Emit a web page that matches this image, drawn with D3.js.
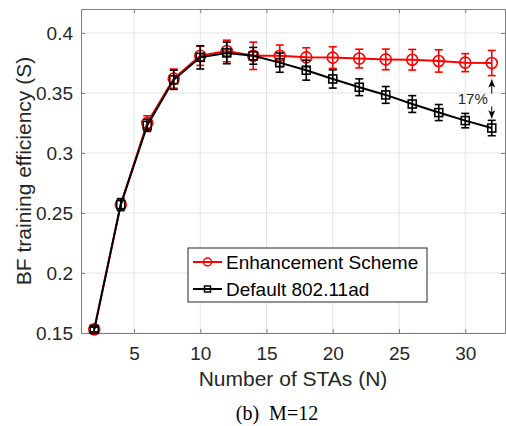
<!DOCTYPE html>
<html>
<head>
<meta charset="utf-8">
<script src="https://cdn.jsdelivr.net/npm/d3@7"></script>
<style>
  body { margin: 0; background: #fff; }
  svg { display: block; font-family: "Liberation Sans", Arial, sans-serif; }
</style>
</head>
<body>
<div class="chart"></div>
<script>
var svgWidth = 506;
var svgHeight = 426;

// data
var stas = [2, 4, 6, 8, 10, 12, 14, 16, 18, 20, 22, 24, 26, 28, 30, 32];
var enhanced = [0.153, 0.257, 0.325, 0.362, 0.381, 0.385, 0.381, 0.381, 0.3797, 0.3795, 0.3787, 0.378, 0.3777, 0.3767, 0.3753, 0.375];
var enhancedErr = [0.002, 0.004, 0.006, 0.008, 0.008, 0.009, 0.0114, 0.009, 0.008, 0.009, 0.0078, 0.0086, 0.0086, 0.0093, 0.0075, 0.0105];
var defaultAd = [0.153, 0.257, 0.323, 0.361, 0.3797, 0.3834, 0.381, 0.3753, 0.369, 0.3617, 0.3548, 0.3484, 0.3408, 0.3337, 0.327, 0.3208];
var defaultErr = [0.002, 0.005, 0.005, 0.008, 0.0097, 0.009, 0.007, 0.008, 0.0083, 0.0076, 0.007, 0.007, 0.007, 0.0067, 0.006, 0.0064];
var xTicks = [5, 10, 15, 20, 25, 30];
var yTicks = [0.15, 0.2, 0.25, 0.3, 0.35, 0.4];
var legendNames = ["Enhancement Scheme", "Default 802.11ad"];

var margin = { top: 9, right: 1, bottom: 93, left: 81 };
var width = svgWidth - margin.left - margin.right;
var height = svgHeight - margin.top - margin.bottom;

var svg = d3.select(".chart")
  .append("svg")
  .attr("width", svgWidth)
  .attr("height", svgHeight);

var chartGroup = svg.append("g")
  .attr("transform", `translate(${margin.left}, ${margin.top})`);

var x = d3.scaleLinear().domain([1, 33]).range([0, width]);
var y = d3.scaleLinear().domain([0.15, 0.42]).range([height, 0]);

var axisColor = "#7f7f7f";
var textColor = "#262626";

// grid
chartGroup.append("g").selectAll("line.gx")
  .data(xTicks).enter().append("line")
  .attr("x1", d => x(d)).attr("x2", d => x(d))
  .attr("y1", 0).attr("y2", height)
  .attr("stroke", "#e3e3e3").attr("stroke-width", 1);
chartGroup.append("g").selectAll("line.gy")
  .data(yTicks).enter().append("line")
  .attr("y1", d => y(d)).attr("y2", d => y(d))
  .attr("x1", 0).attr("x2", width)
  .attr("stroke", "#e3e3e3").attr("stroke-width", 1);

// axes
var bottomAxis = d3.axisBottom(x).tickValues(xTicks).tickSizeInner(-4).tickSizeOuter(0).tickPadding(14);
var leftAxis = d3.axisLeft(y).tickValues(yTicks).tickFormat(d => String(+d.toFixed(2))).tickSizeInner(-4).tickSizeOuter(0).tickPadding(8);
var topAxis = d3.axisTop(x).tickValues(xTicks).tickSizeInner(-4).tickSizeOuter(0).tickFormat("");
var rightAxis = d3.axisRight(y).tickValues(yTicks).tickSizeInner(-4).tickSizeOuter(0).tickFormat("");

function styleAxis(g) {
  g.selectAll("path, line").attr("stroke", axisColor);
  g.selectAll("text").attr("fill", textColor).attr("font-size", "19px")
    .attr("font-family", "Liberation Sans, Arial, sans-serif");
}

chartGroup.append("g").attr("transform", `translate(0, ${height})`).call(bottomAxis).call(styleAxis);
chartGroup.append("g").call(leftAxis).call(styleAxis);
chartGroup.append("g").call(topAxis).call(styleAxis);
chartGroup.append("g").attr("transform", `translate(${width}, 0)`).call(rightAxis).call(styleAxis);

// series
var series = [
  { vals: enhanced, err: enhancedErr, color: "#ff0000", marker: "circle" },
  { vals: defaultAd, err: defaultErr, color: "#000000", marker: "square" }
];

var line = d3.line().x(d => x(d[0])).y(d => y(d[1]));

series.forEach(function(s) {
  var pts = stas.map((n, i) => [n, s.vals[i], s.err[i]]);
  var g = chartGroup.append("g");

  g.append("path")
    .datum(pts)
    .attr("d", line)
    .attr("fill", "none")
    .attr("stroke", s.color)
    .attr("stroke-width", 2);

  var eb = g.selectAll("g.eb").data(pts).enter().append("g");
  eb.append("line")
    .attr("x1", d => x(d[0])).attr("x2", d => x(d[0]))
    .attr("y1", d => y(d[1] - d[2])).attr("y2", d => y(d[1] + d[2]))
    .attr("stroke", s.color).attr("stroke-width", 1.6);
  eb.append("line")
    .attr("x1", d => x(d[0]) - 4).attr("x2", d => x(d[0]) + 4)
    .attr("y1", d => y(d[1] + d[2])).attr("y2", d => y(d[1] + d[2]))
    .attr("stroke", s.color).attr("stroke-width", 1.6);
  eb.append("line")
    .attr("x1", d => x(d[0]) - 4).attr("x2", d => x(d[0]) + 4)
    .attr("y1", d => y(d[1] - d[2])).attr("y2", d => y(d[1] - d[2]))
    .attr("stroke", s.color).attr("stroke-width", 1.6);

  if (s.marker === "circle") {
    g.selectAll("circle").data(pts).enter().append("circle")
      .attr("cx", d => x(d[0])).attr("cy", d => y(d[1]))
      .attr("r", 5.5)
      .attr("fill", "none").attr("stroke", s.color).attr("stroke-width", 1.6);
  } else {
    g.selectAll("rect").data(pts).enter().append("rect")
      .attr("x", d => x(d[0]) - 4).attr("y", d => y(d[1]) - 4)
      .attr("width", 8).attr("height", 8)
      .attr("fill", "none").attr("stroke", s.color).attr("stroke-width", 1.6);
  }
});

// 17% annotation
var ax = x(stas[stas.length - 1]);
var yTop = y(enhanced[enhanced.length - 1] - enhancedErr[enhancedErr.length - 1]) + 4;
var yBot = y(defaultAd[defaultAd.length - 1] + defaultErr[defaultErr.length - 1]) - 2;
var arr = chartGroup.append("g");
arr.append("line")
  .attr("x1", ax).attr("x2", ax).attr("y1", yTop).attr("y2", yTop + 14)
  .attr("stroke", "#000").attr("stroke-width", 1);
arr.append("line")
  .attr("x1", ax).attr("x2", ax).attr("y1", yBot - 12).attr("y2", yBot)
  .attr("stroke", "#000").attr("stroke-width", 1);
arr.append("path")
  .attr("d", `M${ax},${yTop} L${ax - 3.5},${yTop + 8} L${ax},${yTop + 6} L${ax + 3.5},${yTop + 8} Z`)
  .attr("fill", "#000");
arr.append("path")
  .attr("d", `M${ax},${yBot} L${ax - 3.5},${yBot - 8} L${ax},${yBot - 6} L${ax + 3.5},${yBot - 8} Z`)
  .attr("fill", "#000");
arr.append("text")
  .attr("x", ax - 4)
  .attr("y", (yTop + yBot) / 2 + 5)
  .attr("text-anchor", "end")
  .attr("font-size", "15px")
  .attr("fill", textColor)
  .text("17%");

// legend
var legend = chartGroup.append("g")
  .attr("transform", `translate(${188 - margin.left}, ${248 - margin.top})`);
legend.append("rect")
  .attr("x", 0).attr("y", 0).attr("width", 239).attr("height", 54)
  .attr("fill", "#fff").attr("stroke", "#262626").attr("stroke-width", 1);
legendNames.forEach(function(name, i) {
  var s = series[i];
  var ly = 14 + i * 27;
  legend.append("line")
    .attr("x1", 5).attr("x2", 34).attr("y1", ly).attr("y2", ly)
    .attr("stroke", s.color).attr("stroke-width", 2);
  if (s.marker === "circle") {
    legend.append("circle").attr("cx", 19.5).attr("cy", ly).attr("r", 4)
      .attr("fill", "none").attr("stroke", s.color).attr("stroke-width", 1.5);
  } else {
    legend.append("rect").attr("x", 16.5).attr("y", ly - 3).attr("width", 6).attr("height", 6)
      .attr("fill", "none").attr("stroke", s.color).attr("stroke-width", 1.5);
  }
  legend.append("text")
    .attr("x", 38).attr("y", ly + 7)
    .attr("font-size", "19px")
    .attr("fill", "#000")
    .text(name);
});

// axis labels
svg.append("text")
  .attr("transform", `translate(30.5, ${margin.top + height / 2}) rotate(-90)`)
  .attr("text-anchor", "middle")
  .attr("font-size", "21px")
  .attr("fill", textColor)
  .text("BF training efficiency (S)");

svg.append("text")
  .attr("x", margin.left + width / 2)
  .attr("y", 386)
  .attr("text-anchor", "middle")
  .attr("font-size", "21px")
  .attr("fill", textColor)
  .text("Number of STAs (N)");

// caption
svg.append("text")
  .attr("x", 277)
  .attr("y", 420)
  .attr("text-anchor", "middle")
  .attr("font-family", "Liberation Serif, Times New Roman, serif")
  .attr("font-size", "20px")
  .attr("fill", "#000")
  .attr("xml:space", "preserve")
  .text("(b)  M=12");
</script>
</body>
</html>
